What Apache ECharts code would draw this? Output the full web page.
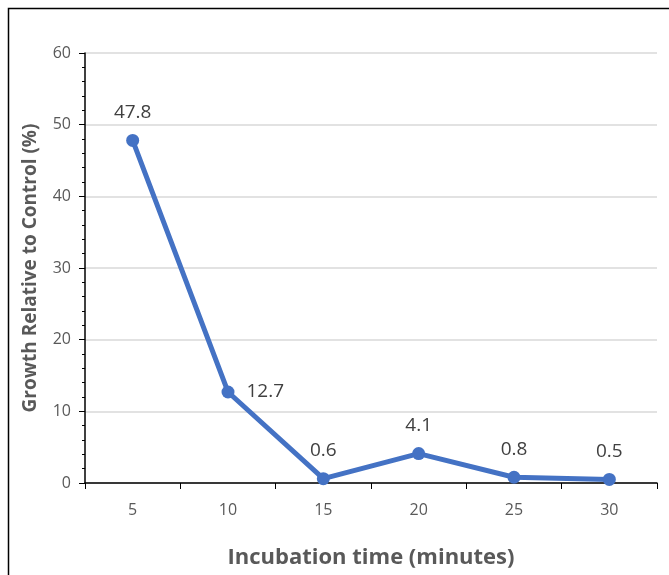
<!DOCTYPE html>
<html><head><meta charset="utf-8">
<script src="https://cdn.jsdelivr.net/npm/echarts@6/dist/echarts.min.js"></script>
<style>html,body{margin:0;padding:0;background:#fff}#c{width:669px;height:575px}</style>
</head><body><div id="c"></div>
<script>
var categories = ['5','10','15','20','25','30'];
var values = [47.8, 12.7, 0.6, 4.1, 0.8, 0.5];
var yTicks = [0, 10, 20, 30, 40, 50, 60];
var labelPositions = ['top','right','top','top','top','top'];

var chart = echarts.init(document.getElementById('c'));
var FONT = 'Open Sans';
chart.setOption({
  animation: false,
  graphic: [{type:'rect', shape:{x:8.5,y:8.5,width:700,height:600}, style:{fill:'none', stroke:'#000', lineWidth:1.5}}],
  grid: {left:85, right:12, top:53, bottom:92, containLabel:false, outerBoundsMode:'none'},
  xAxis: {
    type:'category', data: categories, boundaryGap:true,
    name:'Incubation time (minutes)', nameLocation:'middle', nameGap:64,
    nameTextStyle:{fontFamily:FONT, fontWeight:'bold', fontSize:22, color:'#595959'},
    axisLine:{lineStyle:{color:'#000', width:1.5}},
    axisTick:{show:true, alignWithLabel:false, length:6, lineStyle:{color:'#000'}},
    axisLabel:{fontFamily:FONT, fontSize:16, color:'#595959', margin:19}
  },
  yAxis: {
    type:'value', min:yTicks[0], max:yTicks[yTicks.length-1], interval:10,
    name:'Growth Relative to Control (%)', nameLocation:'middle', nameGap:45,
    nameTextStyle:{fontFamily:FONT, fontWeight:'bold', fontSize:19, color:'#595959'},
    axisLine:{show:true, lineStyle:{color:'#000', width:1.5}},
    axisTick:{show:true, length:6, lineStyle:{color:'#000'}},
    minorTick:{show:true, splitNumber:5, length:3, lineStyle:{color:'#000'}},
    axisLabel:{fontFamily:FONT, fontSize:16, color:'#595959', margin:14},
    splitLine:{lineStyle:{color:'#d9d9d9', width:1.5}}
  },
  series: [{
    type:'line', data: values.map(function(v,i){return {value:v, label:{position:labelPositions[i]}};}),
    symbol:'circle', symbolSize:13,
    lineStyle:{color:'#4472C4', width:5},
    itemStyle:{color:'#4472C4'},
    label:{show:true, fontFamily:FONT, fontSize:19, color:'#404040', distance:12}
  }]
});
</script></body></html>
